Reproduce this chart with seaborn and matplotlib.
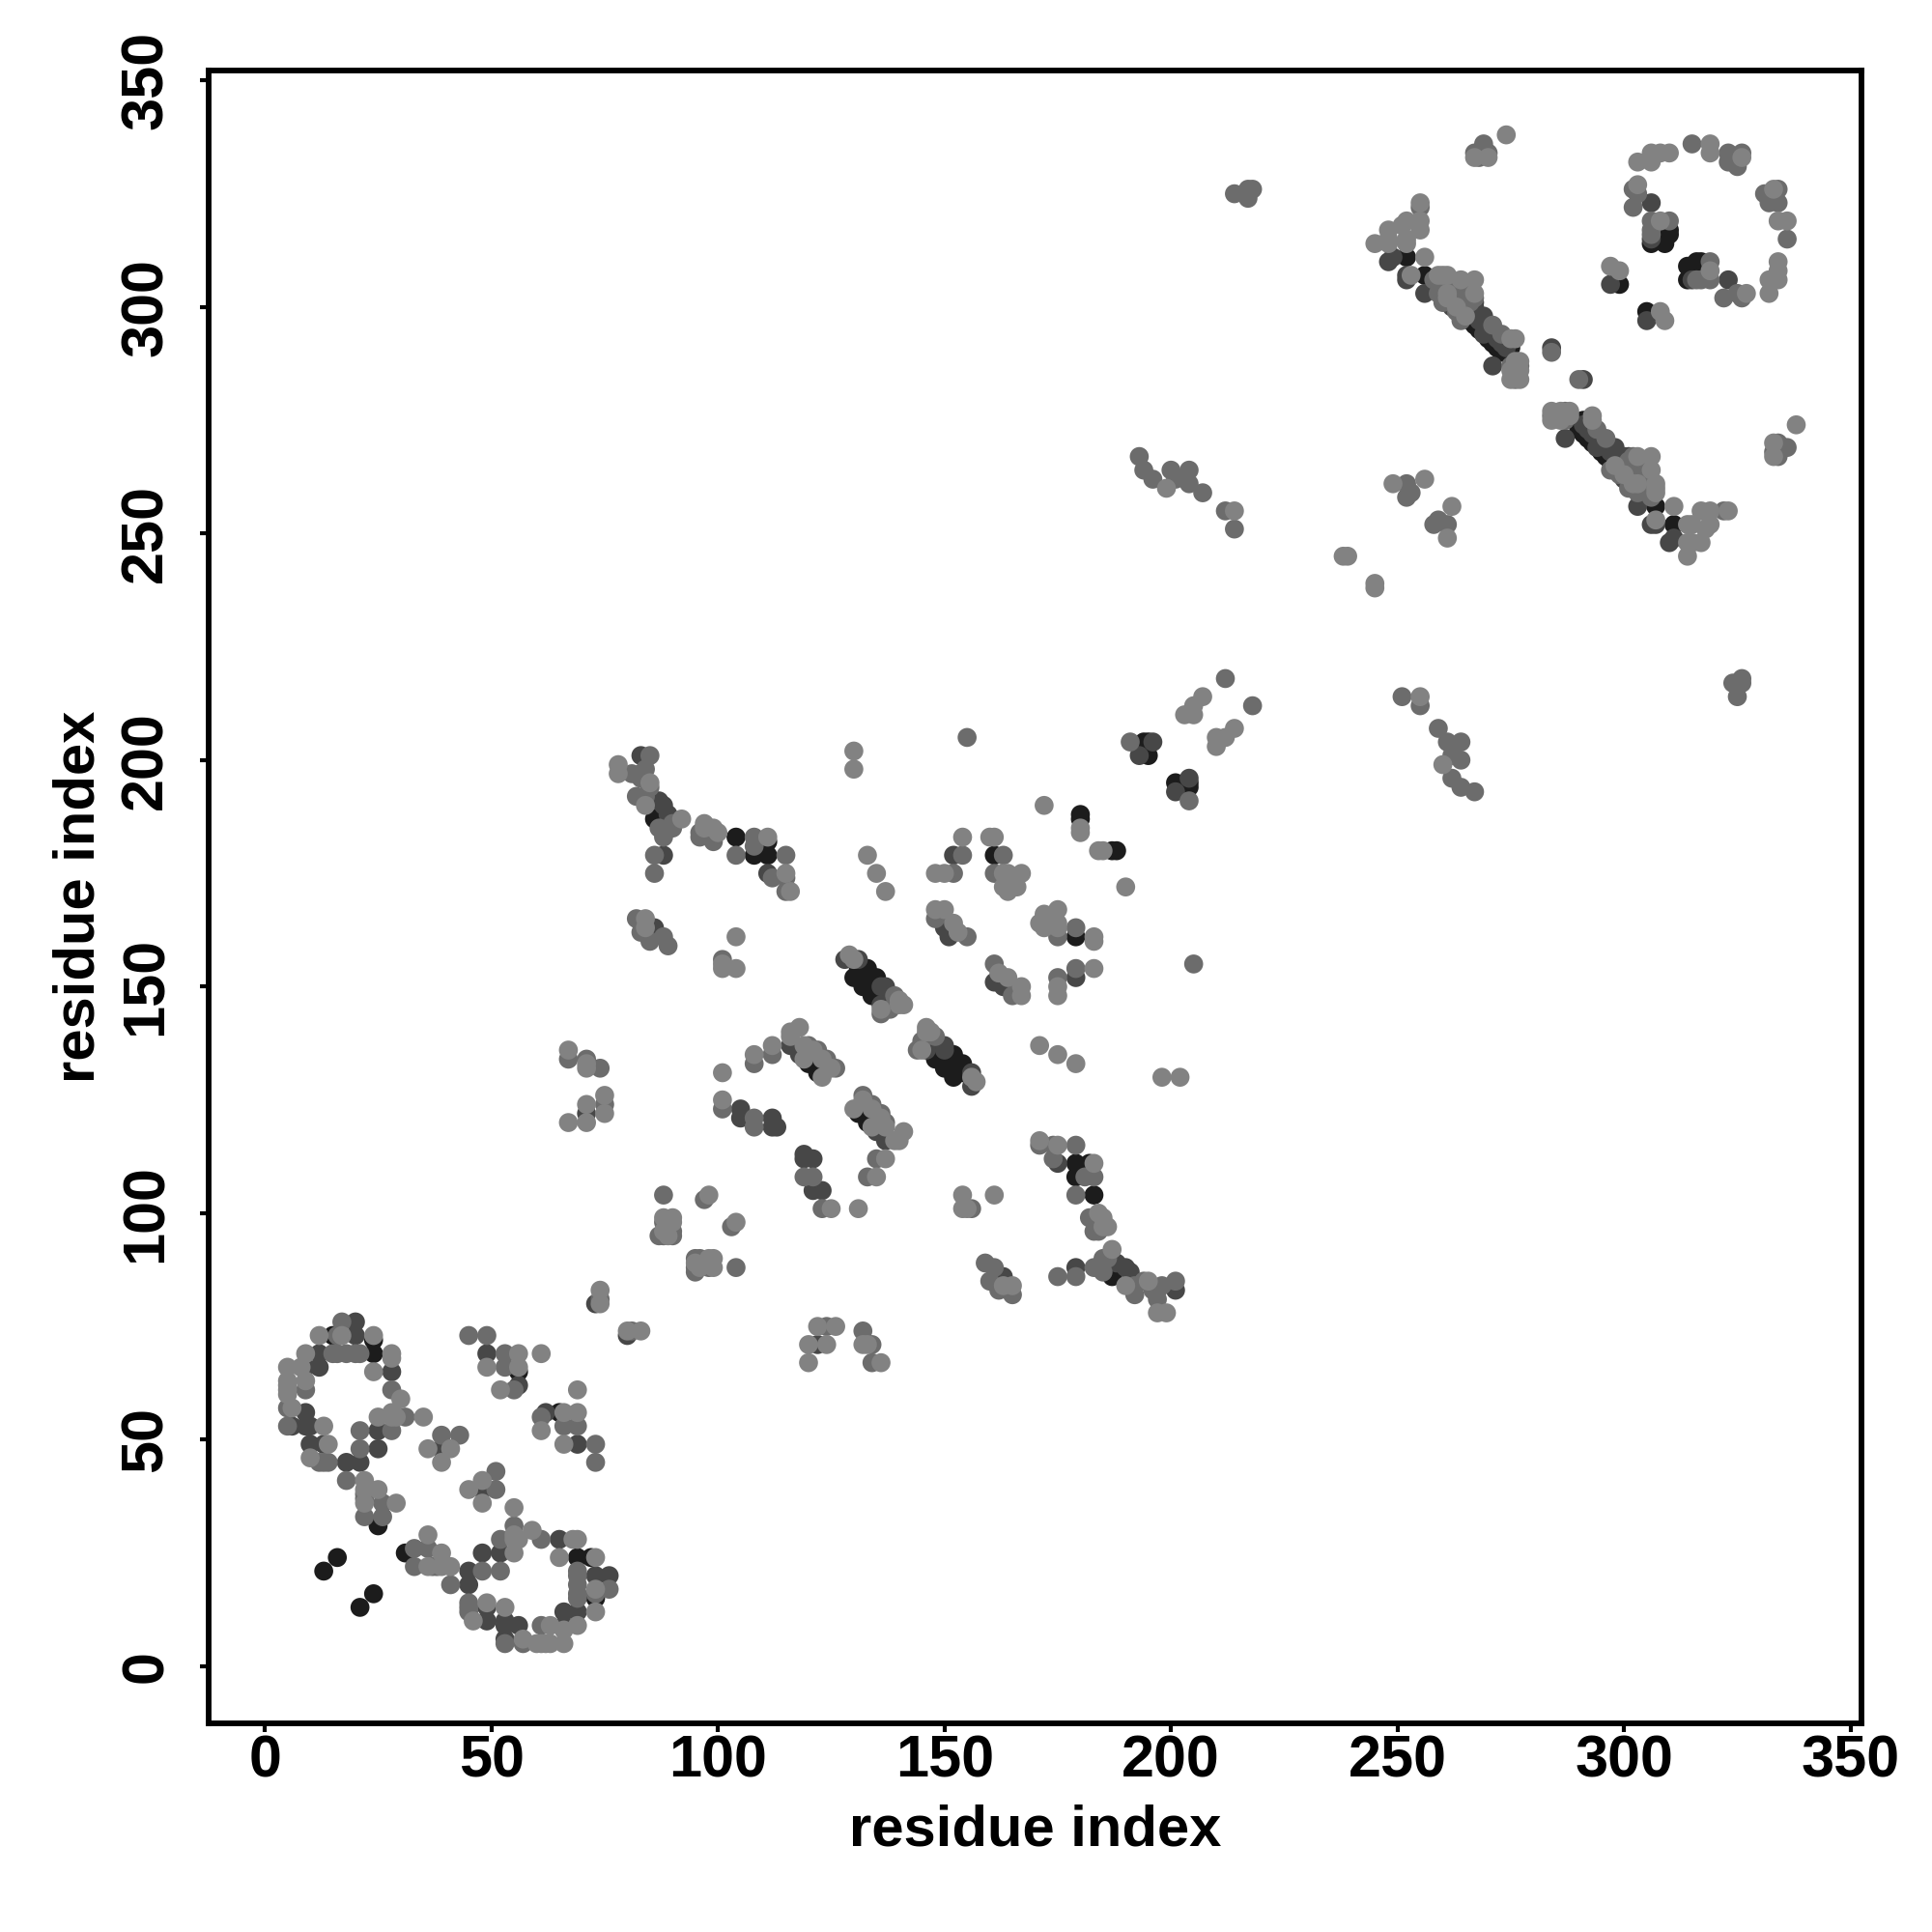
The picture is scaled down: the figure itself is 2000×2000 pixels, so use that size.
import pandas as pd
import matplotlib.pyplot as plt
import seaborn as sns

# residue pairs (i, j), each contact is drawn at (i, j) and (j, i)
black_pairs = [
    (13, 21), (16, 24), (21, 13), (25, 31), (15, 73), (24, 69), (24, 72), (56, 65), (13, 49),
    (122, 131), (120, 133), (130, 152), (132, 150), (134, 148), (131, 153), (133, 151), (135, 149),
    (133, 154), (135, 152), (131, 154), (108, 179), (111, 179), (111, 182), (110, 181), (104, 183),
    (108, 183), (161, 179), (180, 188), (180, 187), (187, 180), (86, 187), (195, 201), (194, 204),
    (195, 204), (252, 311), (256, 307),
    (263, 300), (264, 299), (265, 298), (266, 297), (267, 296), (268, 295), (269, 294), (270, 293),
    (271, 292), (272, 291), (273, 290), (275, 291), (273, 291),
    (299, 305), (309, 314), (310, 316), (306, 314), (309, 315), (310, 317),
]
dark_pairs = [
    (6, 53), (9, 56), (9, 66), (12, 66), (12, 69), (20, 73), (20, 76), (10, 53), (28, 65), (25, 52),
    (25, 48), (18, 45), (21, 45), (26, 36), (39, 48), (49, 69), (56, 62), (10, 49), (49, 13),
    (66, 12), (69, 12), (9, 66), (9, 53), (65, 28), (76, 20), (53, 10),
    (101, 131), (105, 123), (105, 121), (108, 121), (112, 121), (113, 119), (112, 119), (112, 135),
    (71, 122), (73, 80), (74, 80), (90, 95), (136, 150), (136, 146), (137, 150), (131, 156),
    (128, 156), (137, 146), (116, 137), (118, 135), (125, 132), (152, 179), (151, 161), (150, 163),
    (155, 161), (86, 163), (88, 179), (88, 183), (89, 188), (87, 191), (83, 201), (112, 174),
    (111, 175), (193, 201), (196, 204), (248, 310), (249, 311), (252, 306), (256, 303), (306, 323),
    (306, 315), (297, 305), (305, 297), (284, 291), (267, 301), (271, 295), (273, 292), (262, 300),
    (269, 294), (84, 190), (287, 271), (275, 293), (252, 307), (85, 191), (88, 190),
    (264, 301), (266, 299), (268, 297), (270, 295), (272, 293), (274, 291),
    (267, 300), (269, 298),
]
mid_pairs = [
    (5, 53), (5, 57), (5, 62), (9, 61), (9, 63), (9, 69), (10, 46), (12, 73), (13, 45), (13, 53),
    (14, 45), (14, 49), (15, 69), (16, 69), (16, 73), (17, 76), (18, 69), (20, 69), (21, 48),
    (21, 52), (21, 69), (22, 33), (22, 38), (26, 33), (28, 52), (28, 61), (30, 59), (31, 55),
    (33, 26), (36, 26), (36, 22), (37, 22), (41, 18), (45, 14), (45, 12), (49, 14), (39, 51),
    (43, 51), (41, 48), (35, 55), (45, 73), (49, 73), (53, 66), (53, 69), (52, 61), (56, 66),
    (61, 69), (55, 61), (66, 53), (69, 53), (73, 45), (73, 49), (52, 28), (56, 28), (61, 28),
    (69, 21), (73, 17), (76, 17), (61, 9), (57, 5), (60, 5), (63, 5), (73, 12), (69, 16),
    (67, 134), (71, 134), (74, 132), (71, 124), (75, 124), (75, 122), (67, 120), (101, 123),
    (108, 133), (108, 119), (88, 104), (97, 103), (98, 104), (103, 97), (88, 98), (88, 95),
    (87, 95), (95, 90), (95, 87), (96, 90), (104, 88), (74, 81), (74, 83), (81, 74), (119, 108),
    (121, 108), (123, 101), (130, 123), (134, 119), (136, 121), (145, 138), (146, 140),
    (148, 139), (140, 146), (136, 144), (120, 137), (122, 136), (126, 132), (124, 134),
    (135, 108), (135, 112), (133, 108), (172, 166), (171, 164), (172, 163), (175, 167),
    (175, 164), (175, 161), (179, 163), (175, 150), (175, 152), (179, 154), (183, 154),
    (164, 152), (161, 155), (165, 148), (167, 150), (190, 172), (175, 135), (171, 115),
    (174, 115), (179, 115), (174, 112), (183, 108), (181, 108), (182, 99), (184, 96), (183, 96),
    (185, 90), (175, 86), (179, 86), (183, 88), (192, 82), (194, 85), (198, 84), (197, 83),
    (201, 85), (159, 89), (161, 88), (160, 85), (162, 83), (165, 82), (155, 101), (156, 101),
    (161, 104), (179, 104), (155, 205), (191, 204), (203, 210), (205, 212), (207, 214), (212, 218),
    (193, 267), (194, 264), (196, 262), (200, 264), (201, 262), (204, 264), (204, 261),
    (207, 259), (212, 255), (214, 255), (214, 251), (214, 325), (217, 324), (217, 326),
    (218, 326), (239, 245), (238, 245), (249, 261), (252, 261), (252, 258), (253, 259),
    (256, 262), (267, 334), (268, 333), (269, 336), (270, 334), (306, 332), (310, 334),
    (315, 336), (323, 334), (323, 332), (325, 331), (326, 334), (302, 322), (302, 326),
    (306, 319), (306, 316), (310, 319), (331, 325), (334, 323), (332, 323), (336, 315),
    (319, 306), (317, 306), (319, 310), (322, 302), (325, 303), (297, 309), (299, 308), (308, 299),
    (245, 314), (248, 317), (252, 314), (255, 322), (259, 303), (260, 301), (264, 297),
    (284, 275), (284, 276), (290, 284), (263, 299), (266, 301),
    (267, 306), (264, 306), (267, 302), (261, 307), (275, 287), (277, 287),
    (258, 306), (261, 305), (263, 304), (265, 303), (81, 197), (83, 196), (84, 192),
    (87, 185), (88, 184), (90, 186), (271, 296), (273, 294),
]
light_pairs = [
    (5, 61), (5, 66), (5, 60), (5, 63), (8, 66), (12, 73), (17, 73), (24, 73), (28, 69), (24, 65),
    (28, 68), (25, 55), (28, 56), (29, 55), (35, 55), (22, 41), (22, 36), (29, 36), (36, 29),
    (39, 22), (39, 25), (41, 22), (36, 48), (39, 45), (45, 39), (48, 41), (49, 66), (56, 69),
    (61, 52), (69, 56), (66, 56), (69, 61), (73, 24), (65, 24), (46, 10), (49, 14), (53, 13),
    (63, 9), (62, 5), (66, 5), (69, 9), (57, 6), (55, 28), (59, 30), (69, 28), (68, 28), (73, 17),
    (67, 136), (71, 133), (71, 120), (75, 126), (101, 125), (101, 154), (101, 155), (104, 154),
    (108, 135), (112, 137), (116, 139), (118, 141), (116, 140), (119, 137), (121, 136), (123, 134),
    (125, 132), (123, 130), (141, 118), (140, 116), (119, 134), (137, 119), (129, 157), (130, 156),
    (141, 146), (140, 147), (145, 136), (146, 140), (88, 99), (90, 99), (90, 98), (89, 95),
    (99, 90), (99, 88), (96, 88), (104, 98), (80, 74), (83, 74), (120, 67), (122, 75), (126, 75),
    (125, 101), (137, 112), (120, 71), (124, 71), (132, 71), (136, 67), (130, 198), (130, 202),
    (133, 179), (135, 175), (137, 171), (131, 101), (152, 164), (153, 162), (150, 167),
    (148, 167), (163, 175), (167, 175), (163, 172), (166, 172), (164, 171), (160, 183),
    (164, 175), (172, 190), (180, 185), (180, 184), (183, 161), (154, 183), (150, 175),
    (148, 175), (198, 130), (161, 104), (171, 116), (175, 115), (183, 111), (185, 99), (186, 97),
    (187, 92), (190, 84), (195, 85), (197, 78), (199, 78), (165, 84), (163, 84), (179, 133),
    (97, 185), (100, 184), (210, 205), (212, 205), (214, 207), (210, 203),
    (199, 260), (255, 214), (245, 238), (245, 239), (261, 249), (262, 256), (274, 338),
    (267, 333), (270, 333), (303, 332), (319, 336), (319, 334), (326, 333), (333, 326),
    (303, 327), (334, 319), (336, 319), (334, 310), (334, 308), (332, 306), (334, 306),
    (327, 303), (319, 308), (309, 297), (308, 299), (248, 315), (251, 318), (255, 319),
    (255, 317), (252, 315), (253, 307), (256, 311), (259, 307), (260, 307), (276, 288),
    (277, 284), (275, 284), (276, 293), (277, 288), (288, 276), (293, 275), (277, 286),
    (303, 267), (306, 267), (264, 306), (261, 303), (261, 307), (259, 307), (311, 256),
    (314, 252), (317, 255), (319, 255), (323, 255), (319, 252), (314, 248), (317, 248),
    (314, 245), (298, 265), (300, 263), (302, 261), (275, 286), (276, 285),
]
shade_colors = {"black": "#1c1c1c", "dark": "#474747", "mid": "#6c6c6c", "light": "#828282"}
tick_values = [0, 50, 100, 150, 200, 250, 300, 350]

rows = []
for name, pairs in [("black", black_pairs), ("dark", dark_pairs), ("mid", mid_pairs), ("light", light_pairs)]:
    for i, j in pairs:
        rows.append((i, j, name))
        rows.append((j, i, name))
df = pd.DataFrame(rows, columns=["x", "y", "shade"]).drop_duplicates(["x", "y"], keep="last")

sns.set_theme(style="white")
plt.rcParams['font.family'] = ['Liberation Sans', 'DejaVu Sans']
plt.rcParams['font.weight'] = 'bold'

fig = plt.figure(figsize=(10, 10), dpi=200)
ax = fig.add_axes([0.108, 0.108, 0.8555, 0.8555])

sns.scatterplot(data=df, x="x", y="y", hue="shade", palette=shade_colors,
                s=50, linewidth=0, legend=False, ax=ax, clip_on=True)

ax.set_xlim(-12.4, 352.4)
ax.set_ylim(-12.6, 352.2)
ax.set_xticks(tick_values)
ax.set_yticks(tick_values)
ax.tick_params(axis='x', length=3.2, width=1.5, labelsize=22, pad=1, color='black', bottom=True)
ax.tick_params(axis='y', length=3.2, width=1.5, labelsize=22, pad=9.5, color='black', left=True)
for label in ax.get_yticklabels():
    label.set_rotation(90)
    label.set_va('center')
for label in ax.get_xticklabels() + ax.get_yticklabels():
    label.set_fontweight('bold')
    label.set_color('black')
for spine in ax.spines.values():
    spine.set_linewidth(2.1)
    spine.set_color('black')

ax.set_xlabel("residue index", fontsize=21.5, fontweight='bold', color='black', labelpad=5.5)
ax.set_ylabel("residue index", fontsize=21.5, fontweight='bold', color='black', labelpad=5)

plt.savefig("out.png", dpi=200)
